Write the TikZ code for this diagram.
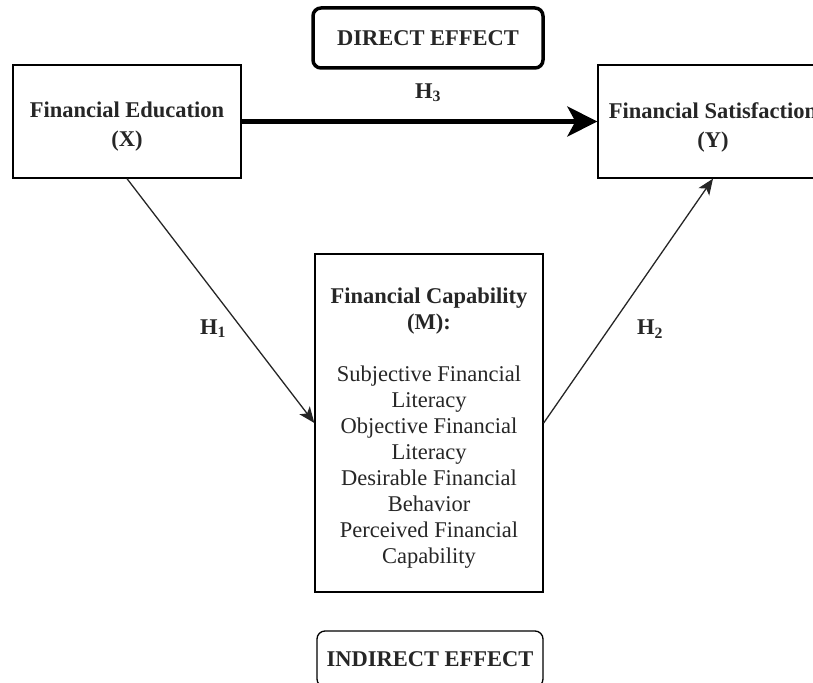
\documentclass[tikz,border=0pt]{standalone}
\usepackage{fontspec}
\setmainfont{Liberation Serif}
\usetikzlibrary{arrows.meta}
\tikzset{
  box/.style={draw=black, line width=1.3pt, rectangle, fill=white, align=center, inner sep=0pt, text=black!85,
    font=\fontsize{22.5}{27}\selectfont},
  tagbox/.style={box, rounded corners=8pt, font=\fontsize{22.5}{27}\selectfont\bfseries},
  txt/.style={align=center, inner sep=0pt, text=black!85},
  link/.style={draw=black!85, line width=1.3pt, -{Stealth[length=16pt,width=13pt,inset=4pt]}},
  biglink/.style={draw=black, line width=4.5pt, -{Stealth[length=30pt,width=30pt,inset=8pt]}},
  hlabel/.style={font=\fontsize{22.5}{27}\selectfont\bfseries, text=black!85, inner sep=0pt}
}
\begin{document}
\begin{tikzpicture}[x=1pt,y=-1pt]
\useasboundingbox (0,0) rectangle (813,682);
\clip (0,0) rectangle (813,682);
\node[tagbox, line width=3.5pt, minimum width=230, minimum height=60] (de) at (428,38) {DIRECT EFFECT};
\node[box, minimum width=228, minimum height=113] (fe) at (127,121.5) {};
\node[txt, font=\fontsize{22.5}{29}\selectfont\bfseries] (fet) at (127,127) {Financial Education\\(X)};
\node[box, minimum width=230, minimum height=113] (fs) at (713,121.5) {};
\node[txt, font=\fontsize{22.5}{29}\selectfont\bfseries] (fst) at (713,127) {Financial Satisfaction\\(Y)};
\node[box, minimum width=228, minimum height=338] (fc) at (429,423) {};
\node[txt, font=\fontsize{22.5}{26}\selectfont] (fct) at (429,428) {\textbf{Financial Capability}\\\textbf{(M):}\\[26pt]Subjective Financial\\Literacy\\Objective Financial\\Literacy\\Desirable Financial\\Behavior\\Perceived Financial\\Capability};
\node[tagbox, minimum width=226, minimum height=56] (ie) at (430,659) {INDIRECT EFFECT};
\draw[biglink] (fe.east) -- (fs.west);
\draw[link] (fe.south) -- (fc.west);
\draw[link] (fc.east) -- (fs.south);
\node[hlabel] (h3) at (428,93) {H\textsubscript{3}};
\node[hlabel] (h1) at (213,329) {H\textsubscript{1}};
\node[hlabel] (h2) at (650,329) {H\textsubscript{2}};
\end{tikzpicture}
\end{document}
